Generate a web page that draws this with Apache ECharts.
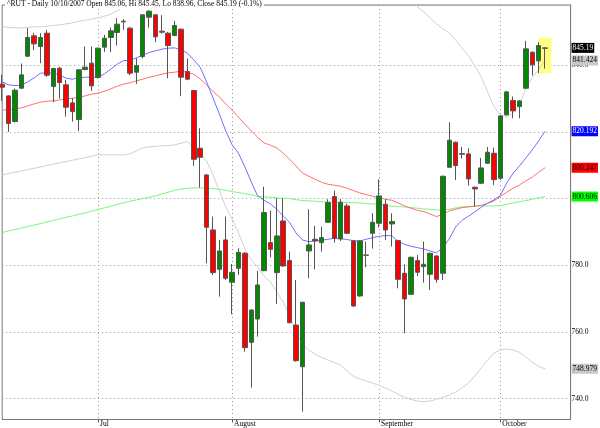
<!DOCTYPE html>
<html><head><meta charset="utf-8">
<script src="https://cdn.jsdelivr.net/npm/echarts@6.0.0/dist/echarts.min.js"></script>
<style>html,body{margin:0;padding:0;background:#fff}#c{width:600px;height:428px}</style>
</head><body><div id="c"></div>
<script>
const dates = [
'2007-06-11','2007-06-12','2007-06-13','2007-06-14','2007-06-15','2007-06-18','2007-06-19','2007-06-20','2007-06-21','2007-06-22',
'2007-06-25','2007-06-26','2007-06-27','2007-06-28','2007-06-29',
'2007-07-02','2007-07-03','2007-07-05','2007-07-06','2007-07-09','2007-07-10','2007-07-11','2007-07-12','2007-07-13','2007-07-16',
'2007-07-17','2007-07-18','2007-07-19','2007-07-20','2007-07-23','2007-07-24','2007-07-25','2007-07-26','2007-07-27','2007-07-30','2007-07-31',
'2007-08-01','2007-08-02','2007-08-03','2007-08-06','2007-08-07','2007-08-08','2007-08-09','2007-08-10','2007-08-13','2007-08-14',
'2007-08-15','2007-08-16','2007-08-17','2007-08-20','2007-08-21','2007-08-22','2007-08-23','2007-08-24','2007-08-27','2007-08-28',
'2007-08-29','2007-08-30','2007-08-31',
'2007-09-04','2007-09-05','2007-09-06','2007-09-07','2007-09-10','2007-09-11','2007-09-12','2007-09-13','2007-09-14','2007-09-17',
'2007-09-18','2007-09-19','2007-09-20','2007-09-21','2007-09-24','2007-09-25','2007-09-26','2007-09-27','2007-09-28',
'2007-10-01','2007-10-02','2007-10-03','2007-10-04','2007-10-05','2007-10-08','2007-10-09','2007-10-10'];
const padDates = ['2007-10-11','2007-10-12','2007-10-15','2007-10-16'];

const opens  = [834.3,830.8,823.1,833.1,842.7,848.8,845.6,849.6,833.6,839.1,834.1,828.7,823.7,838.7,840.6,836.3,845.4,848.3,849.8,853.0,
851.1,837.9,842.6,854.4,855.1,850.2,849.6,848.9,850.8,838.1,832.4,815.1,807.1,790.6,778.8,787.6,774.9,779.1,783.6,756.9,
763.9,778.4,786.8,777.8,793.3,781.4,762.1,749.6,784.3,787.8,786.8,792.9,800.6,787.9,797.8,787.3,770.8,783.1,789.6,792.6,
798.3,792.4,787.4,777.6,771.3,781.4,779.6,777.3,782.8,777.6,809.4,816.9,813.5,813.4,803.4,804.6,810.6,813.6,806.1,825.1,
829.4,827.6,833.1,843.9,841.3,845.06];
const closes = [833.4,822.5,832.5,837.1,848.3,846.4,848.3,837.0,839.0,834.8,827.4,826.1,838.6,839.4,833.8,845.1,848.1,850.3,852.3,853.2,
837.6,839.9,855.1,856.2,848.5,849.9,845.9,851.9,836.4,835.8,811.8,812.4,791.4,777.8,784.3,776.1,777.9,783.9,755.3,766.6,
774.1,795.8,784.8,788.8,779.8,762.8,751.4,768.9,786.1,787.3,788.3,798.8,788.1,798.9,789.6,767.8,787.3,783.0,792.9,800.8,
790.6,793.1,775.8,769.9,782.4,777.9,780.3,783.6,775.8,806.7,817.5,809.9,813.3,805.9,802.9,809.2,813.9,805.7,824.8,832.0,
826.3,829.3,844.9,840.1,845.9,845.19];
const lows   = [829.3,820.0,822.8,833.0,842.5,844.5,840.6,836.5,828.9,830.0,824.6,823.1,820.3,838.5,832.3,836.0,844.0,843.9,845.9,850.6,
837.0,834.4,842.0,851.3,846.9,849.5,836.1,848.7,830.7,835.5,809.8,803.3,780.6,777.1,770.6,775.6,765.3,777.1,754.1,743.3,
758.6,778.2,782.4,768.4,779.5,762.5,751.1,736.1,776.1,778.8,784.1,792.7,786.8,787.3,789.4,767.5,770.6,779.4,785.0,791.3,
787.6,785.6,773.1,759.6,771.1,776.8,774.8,772.6,774.8,775.6,809.2,805.6,812.0,803.9,797.6,804.4,810.4,804.1,805.6,824.9,
824.1,824.1,832.9,836.9,837.6,838.96];
const highs  = [837.1,831.0,833.0,840.5,851.1,849.7,849.6,850.6,839.2,839.5,835.6,830.1,838.8,845.6,845.6,845.3,849.1,851.3,854.1,853.8,
851.5,842.1,855.3,856.5,855.3,855.0,850.0,853.3,851.0,842.0,832.5,821.1,807.3,794.6,787.6,794.6,780.4,785.1,784.0,766.8,
778.3,803.6,796.4,800.1,800.1,784.1,775.6,769.1,796.8,791.8,791.6,799.8,802.4,799.9,798.5,787.5,787.5,787.1,795.6,805.8,
799.8,795.6,787.6,780.3,782.6,783.1,787.1,783.8,783.0,806.9,822.9,817.1,815.5,815.1,803.6,812.2,815.5,815.3,825.0,832.3,
830.6,829.5,847.3,844.1,846.9,845.45];

const ma20 = [835.0,834.1,833.9,834.0,835.0,836.2,837.6,837.7,837.6,837.1,836.1,835.8,836.2,836.4,836.4,836.4,837.4,838.8,840.3,841.4,
841.4,842.2,843.0,843.8,844.3,844.8,845.1,845.2,844.6,843.6,841.6,839.4,835.0,830.2,825.4,820.3,816.1,813.6,809.5,805.0,
800.8,799.5,798.4,796.8,794.8,792.9,789.7,787.6,787.1,787.3,787.5,787.8,788.1,788.0,787.7,787.4,787.3,787.8,788.3,788.7,
788.9,788.9,787.2,786.3,785.7,785.3,784.9,784.3,783.7,785.4,787.9,791.5,793.5,794.7,796.0,797.4,798.6,799.6,801.0,804.7,
807.6,809.8,812.2,814.6,817.3,820.192];
const ma50 = [826.6,826.6,826.9,827.2,827.8,828.4,828.9,829.2,829.3,829.6,829.9,830.1,830.4,830.8,831.3,831.6,832.2,832.9,833.7,834.3,
834.7,835.3,835.8,836.4,836.8,837.3,837.7,837.9,838.2,837.9,837.3,835.9,834.1,832.2,830.5,828.4,826.5,824.4,822.3,820.3,
818.4,816.7,816.0,815.2,813.6,811.8,809.8,807.7,806.7,805.8,804.9,804.3,804.0,803.7,803.1,802.4,801.7,801.2,800.7,800.3,
799.8,799.5,798.7,797.8,797.1,796.5,796.1,795.4,794.6,795.3,796.3,796.8,797.3,797.5,797.7,798.0,798.6,799.3,800.7,801.9,
803.1,804.1,805.3,806.4,807.9,809.247];
const ma200 = [789.8,790.3,790.7,791.2,791.6,792.1,792.5,793.0,793.4,793.9,794.4,794.8,795.3,795.7,796.2,796.8,797.2,797.7,798.3,798.7,
799.2,799.6,800.0,800.4,800.8,801.4,801.9,802.5,802.9,803.1,803.2,803.2,803.1,803.0,802.8,802.5,802.1,801.8,801.5,801.1,
800.7,800.5,800.4,800.2,800.1,800.0,799.7,799.4,799.3,799.2,799.1,799.0,799.0,798.9,798.8,798.8,798.7,798.5,798.4,798.3,
798.0,797.7,797.6,797.5,797.3,797.1,796.9,796.8,796.6,796.7,796.8,797.2,797.5,797.6,797.7,797.8,797.8,797.8,797.9,798.3,
798.7,799.1,799.4,799.8,800.2,800.606];
const bbUpper = [851.7,851.3,851.2,851.2,851.3,851.5,851.5,851.7,851.9,852.1,852.4,852.7,853.2,853.5,853.8,854.2,854.7,855.3,856.3,857.5,
859.0,860.5,862.0,863.5,865.0,866.0,867.0,867.5,868.0,868.0,868.5,869.0,870.0,871.5,873.0,874.5,876.0,877.0,878.0,879.0,
879.5,880.0,880.0,880.0,879.5,879.0,878.5,878.0,877.0,876.0,875.0,874.0,873.0,872.0,871.0,870.0,869.0,868.0,867.0,866.0,
865.0,864.0,862.5,861.0,859.5,857.5,856.0,854.2,852.4,850.9,849.7,847.5,845.2,842.8,839.8,836.5,832.0,827.5,825.1,824.4,
825.7,828.1,833.2,836.2,838.8,841.424];
const bbLower = [807.1,807.5,807.9,808.3,808.7,809.1,809.5,809.9,810.3,810.7,811.1,811.5,811.9,812.3,812.7,813.1,813.1,813.1,813.1,813.1,
813.4,814.3,815.2,815.5,815.7,815.8,815.9,816.1,816.6,817.1,815.4,813.6,811.3,807.1,802.3,797.5,793.9,789.7,784.9,781.6,
779.5,776.8,775.0,772.0,769.0,764.8,760.0,756.4,754.6,753.3,752.4,751.6,750.9,750.0,748.3,746.7,745.9,745.3,744.7,744.0,
743.2,742.3,741.3,740.4,739.8,739.3,739.1,739.3,739.8,740.4,741.1,742.0,743.2,744.7,746.8,749.2,751.6,753.7,754.6,754.9,
754.6,753.9,752.5,750.9,749.7,748.979];

const monthLabels = {'2007-07-02':'Jul','2007-08-01':'August','2007-09-04':'September','2007-10-01':'October'};
const yTicks = [740,760,780,800,820,840];
const titleText = '^RUT - Daily 10/10/2007 Open 845.06, Hi 845.45, Lo 838.96, Close 845.19 (-0.1%)';
const tagTexts = ['845.19','841.424','820.192','809.247','800.606','748.979'];

const FONT = 'Liberation Serif';
const cats = dates.concat(padDates);
const isMonth = (idx, val) => monthLabels[cats[idx]] !== undefined;
const candles = dates.map((d, i) => [opens[i], closes[i], lows[i], highs[i]]);
const last = a => a[a.length - 1];

function tagItem(value, text, bg, fg) {
  return { yAxis: value, label: { formatter: text, backgroundColor: bg, color: fg } };
}
function line(name, data, color) {
  return { name, type: 'line', data, showSymbol: false, symbol: 'none', clip: true, silent: true,
    lineStyle: { width: 1, color }, z: 1 };
}

const chart = echarts.init(document.getElementById('c'), null, { renderer: 'canvas' });
chart.setOption({
  animation: false,
  backgroundColor: '#fff',
  title: { text: titleText, left: 5, top: 0, z: 10, padding: [0, 2], backgroundColor: '#fff',
    textStyle: { fontFamily: FONT, fontSize: 7.5, fontWeight: 'normal', color: '#000', lineHeight: 9 } },
  grid: { left: 2.2, top: 5, width: 568.4, height: 414.5, show: true, borderColor: '#777', borderWidth: 1,
    outerBoundsMode: 'none', containLabel: false },
  xAxis: {
    type: 'category', data: cats, boundaryGap: false,
    axisLine: { show: true, lineStyle: { color: '#777' } },
    axisTick: { show: true, interval: isMonth, length: 3, lineStyle: { color: '#555' } },
    axisLabel: { interval: isMonth, formatter: v => monthLabels[v] || '', align: 'left', margin: 1,
      padding: [0, 0, 0, 2], fontFamily: FONT, fontSize: 7.5, color: '#000' },
    splitLine: { show: true, interval: isMonth, lineStyle: { type: [1, 3], color: '#999' } }
  },
  yAxis: {
    type: 'value', position: 'right', min: 733.76, max: 858.05, splitNumber: 6,
    axisLine: { show: true, lineStyle: { color: '#777' } },
    axisTick: { show: false },
    axisLabel: { margin: 1, fontFamily: FONT, fontSize: 7.5, color: '#000',
      formatter: v => yTicks.some(t => Math.abs(t - v) < 1e-6) ? v.toFixed(1) : '' },
    splitLine: { show: true, lineStyle: { type: [1, 3], color: '#999' } }
  },
  series: [
    line('BB Upper', bbUpper, '#d0d0d0'),
    line('BB Lower', bbLower, '#d0d0d0'),
    line('MA200', ma200, '#7cf57c'),
    line('MA50', ma50, '#ff7070'),
    line('MA20', ma20, '#7070ff'),
    {
      name: 'RUT', type: 'candlestick', data: candles, barWidth: 5, z: 3,
      itemStyle: { color: '#008a00', color0: '#ff0000', borderColor: '#555', borderColor0: '#555', borderColorDoji: '#555', borderWidth: 1 },
      markArea: { silent: true, itemStyle: { color: '#ffff80' },
        data: [[{ xAxis: '2007-10-09', yAxis: 848.2 }, { xAxis: '2007-10-11', yAxis: 837.6 }]] }
    },
    {
      name: 'tags', type: 'line', data: [], clip: false, silent: true, z: 5,
      markLine: {
        silent: true, animation: false, symbol: ['none', 'none'], clip: false,
        lineStyle: { width: 0, color: 'rgba(0,0,0,0)', type: 'solid' },
        label: { show: true, position: 'end', distance: 1, fontFamily: FONT, fontSize: 7.5,
          padding: [1, 1, 0, 1], lineHeight: 9 },
        data: [
          tagItem(last(closes), tagTexts[0], '#000', '#fff'),
          tagItem(last(bbUpper), tagTexts[1], '#c8c8c8', '#000'),
          tagItem(last(ma20), tagTexts[2], '#0000ff', '#fff'),
          tagItem(last(ma50), tagTexts[3], '#ff0000', '#000'),
          tagItem(last(ma200), tagTexts[4], '#00ff00', '#000'),
          tagItem(last(bbLower), tagTexts[5], '#c8c8c8', '#000')
        ]
      }
    }
  ]
});
</script></body></html>
